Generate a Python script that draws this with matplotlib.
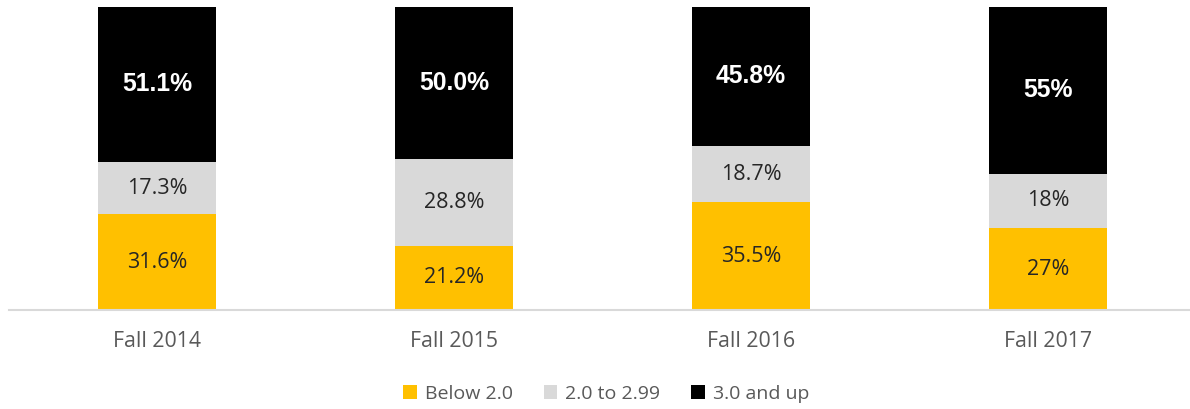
import matplotlib.pyplot as plt
import numpy as np

terms = ['Fall 2014', 'Fall 2015', 'Fall 2016', 'Fall 2017']
below_2 = [31.6, 21.2, 35.5, 27]
mid_2_299 = [17.3, 28.8, 18.7, 18]
above_3 = [51.1, 50.0, 45.8, 55]
below_lbl = ['31.6%', '21.2%', '35.5%', '27%']
mid_lbl = ['17.3%', '28.8%', '18.7%', '18%']
above_lbl = ['51.1%', '50.0%', '45.8%', '55%']

fig = plt.figure(figsize=(11.9, 4.09), dpi=100)
ax = fig.add_axes([8.5 / 1190, 99 / 409, 1188 / 1190, (310 - 7) / 409])

x = np.arange(len(terms))
w = 0.4
b1 = ax.bar(x, below_2, w, color='#FFC000', label='Below 2.0')
b2 = ax.bar(x, mid_2_299, w, bottom=below_2, color='#D9D9D9', label='2.0 to 2.99')
bot3 = np.array(below_2) + np.array(mid_2_299)
b3 = ax.bar(x, above_3, w, bottom=bot3, color='#000000', label='3.0 and up')

lab_font = 'Open Sans'
for i in range(len(terms)):
    ax.text(x[i], below_2[i] / 2, below_lbl[i], ha='center', va='center',
            fontsize=15.5, color='#262626', family=lab_font)
    ax.text(x[i], below_2[i] + mid_2_299[i] / 2, mid_lbl[i], ha='center', va='center',
            fontsize=15.5, color='#262626', family=lab_font)
    ax.text(x[i], bot3[i] + above_3[i] / 2, above_lbl[i], ha='center', va='center',
            fontsize=17.8, color='white', fontweight='bold', family='Liberation Sans')

ax.set_xlim(-0.5, 3.5)
ax.set_ylim(0, 100)
ax.set_yticks([])
ax.set_xticks(x)
ax.set_xticklabels(terms, fontsize=15.3, color='#595959', family=lab_font)
ax.tick_params(axis='x', length=0, pad=15)
for s in ['top', 'right', 'left']:
    ax.spines[s].set_visible(False)
ax.spines['bottom'].set_color('#D9D9D9')
ax.spines['bottom'].set_linewidth(1.5)

leg = fig.legend(handles=[b1, b2, b3], loc='center', bbox_to_anchor=(606 / 1190, 1 - 394 / 409),
                 ncol=3, frameon=False, handlelength=0.7, handleheight=0.7,
                 handletextpad=0.4, columnspacing=1.6,
                 prop={'family': lab_font, 'size': 14})
for t in leg.get_texts():
    t.set_color('#595959')

fig.savefig('out.png', dpi=100)
